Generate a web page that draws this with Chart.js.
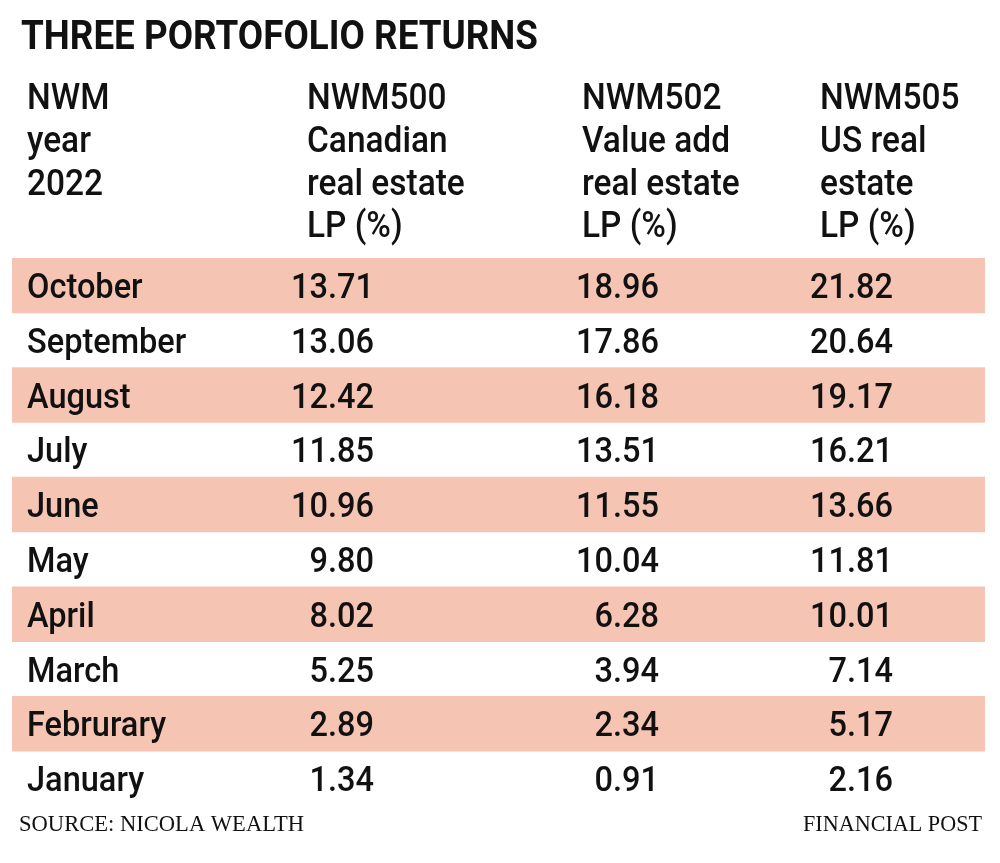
<!DOCTYPE html>
<html>
<head>
<meta charset="utf-8">
<script src="https://cdn.jsdelivr.net/npm/chart.js@4.4.0/dist/chart.umd.min.js"></script>
<style>
html,body{margin:0;padding:0;background:#fff;}
#wrap{width:1000px;height:863px;position:relative;}
</style>
</head>
<body>
<div id="wrap"><canvas id="c"></canvas></div>
<script>
// ---- data ----
const title = "THREE PORTOFOLIO RETURNS";
const headerCols = [
  ["NWM", "year", "2022"],
  ["NWM500", "Canadian", "real estate", "LP (%)"],
  ["NWM502", "Value add", "real estate", "LP (%)"],
  ["NWM505", "US real", "estate", "LP (%)"]
];
const months = ["October","September","August","July","June","May","April","March","Februrary","January"];
const nwm500 = ["13.71","13.06","12.42","11.85","10.96","9.80","8.02","5.25","2.89","1.34"];
const nwm502 = ["18.96","17.86","16.18","13.51","11.55","10.04","6.28","3.94","2.34","0.91"];
const nwm505 = ["21.82","20.64","19.17","16.21","13.66","11.81","10.01","7.14","5.17","2.16"];
const shaded = [1,null,1,null,1,null,1,null,1,null];
const sourceText = "SOURCE: NICOLA WEALTH";
const creditText = "FINANCIAL POST";

// ---- styles / layout ----
const SANS = "Roboto, 'Liberation Sans', sans-serif";
const SERIF = "'Liberation Serif', 'DejaVu Serif', serif";
const BAND = "#f6c4b3";
const SQ = 0.93; // horizontal squash to mimic condensed face
const headerX = [27, 307, 582, 820];
const headerBase = [109, 152, 195, 237];
const valueRight = [374, 659, 893];
const labelX = 27;

function drawText(ctx, txt, x, y, font, align, sx, maxW) {
  ctx.save();
  ctx.font = font;
  ctx.fillStyle = "#111";
  ctx.textBaseline = "alphabetic";
  ctx.textAlign = align;
  ctx.translate(x, y);
  if (maxW) {
    ctx.fillText(txt, 0, 0, maxW);
  } else {
    ctx.scale(sx, 1);
    ctx.fillText(txt, 0, 0);
  }
  ctx.restore();
}

const tablePlugin = {
  id: "tableText",
  afterDatasetsDraw(chart) {
    const ctx = chart.ctx;
    const y = chart.scales.y;
    // title
    drawText(ctx, title, 21, 49, "bold 41px " + SANS, "left", 1, 517);
    // headers
    headerCols.forEach((col, c) => {
      col.forEach((line, l) => {
        drawText(ctx, line, headerX[c], headerBase[l], "500 36px " + SANS, "left", SQ);
      });
    });
    // rows
    const cols = [nwm500, nwm502, nwm505];
    months.forEach((m, i) => {
      const cy = y.getPixelForValue(i);
      const base = cy + 12.5;
      drawText(ctx, m, labelX, base, "500 35px " + SANS, "left", SQ);
      cols.forEach((arr, c) => {
        drawText(ctx, arr[i], valueRight[c], base, "500 35px " + SANS, "right", SQ);
      });
    });
    // footer
    drawText(ctx, sourceText, 19, 831, "23px " + SERIF, "left", 1, 285);
    drawText(ctx, creditText, 982, 831, "23px " + SERIF, "right", 1, 179);
  }
};

new Chart(document.getElementById("c"), {
  type: "bar",
  data: {
    labels: months,
    datasets: [{
      data: shaded,
      backgroundColor: BAND,
      borderWidth: 0,
      barPercentage: 1,
      categoryPercentage: 1
    }]
  },
  options: {
    indexAxis: "y",
    responsive: true,
    maintainAspectRatio: false,
    animation: false,
    events: [],
    layout: { padding: { left: 12, right: 15, top: 258, bottom: 57 } },
    scales: {
      x: { display: false, min: 0, max: 1 },
      y: { display: false }
    },
    plugins: { legend: { display: false }, title: { display: false }, tooltip: { enabled: false } }
  },
  plugins: [tablePlugin]
});
</script>
</body>
</html>
